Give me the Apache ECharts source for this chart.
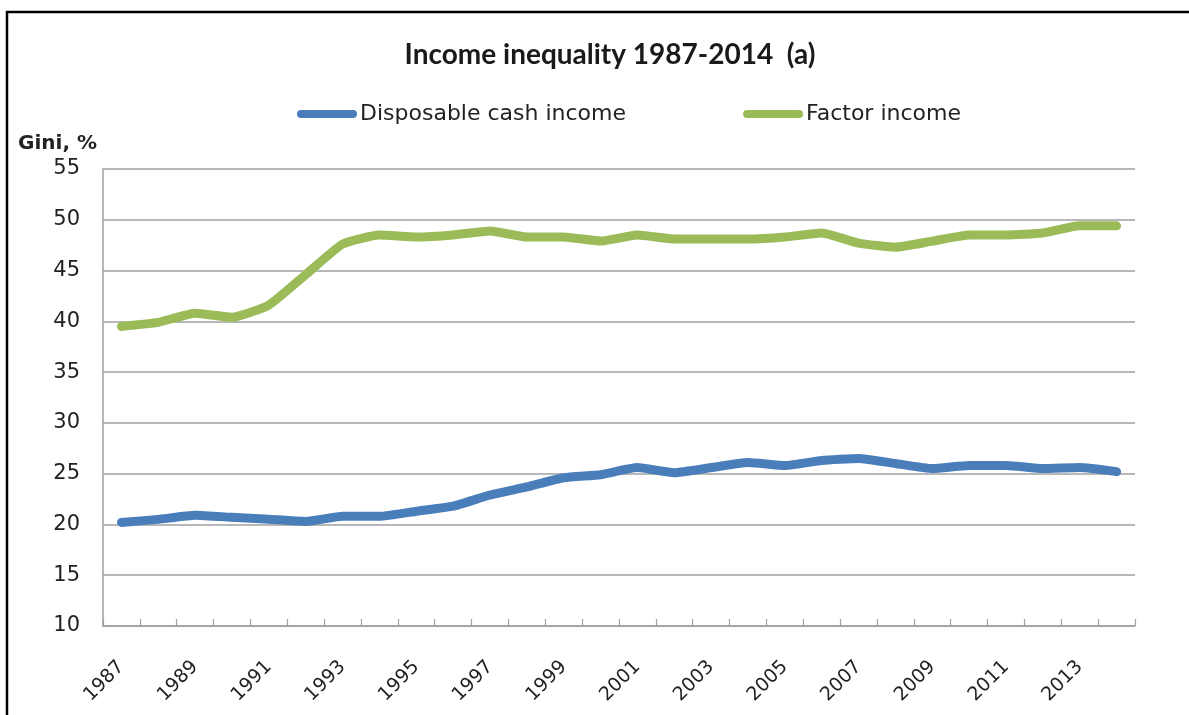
<!DOCTYPE html>
<html>
<head>
<meta charset="utf-8">
<script src="https://cdn.jsdelivr.net/npm/echarts@6/dist/echarts.min.js"></script>
<style>
html,body{margin:0;padding:0;background:#fff;}
#chart{width:1189px;height:715px;}
</style>
</head>
<body>
<div id="chart"></div>
<script>
var years = ['1987','1988','1989','1990','1991','1992','1993','1994','1995','1996','1997','1998','1999','2000',
             '2001','2002','2003','2004','2005','2006','2007','2008','2009','2010','2011','2012','2013','2014'];
var disposableCashIncome = [20.2,20.5,20.9,20.7,20.5,20.3,20.8,20.8,21.3,21.8,22.9,23.7,24.6,24.9,
                            25.6,25.1,25.6,26.1,25.8,26.3,26.5,26.0,25.5,25.8,25.8,25.5,25.6,25.2];
var factorIncome = [39.5,39.9,40.8,40.4,41.6,44.6,47.6,48.5,48.3,48.5,48.9,48.3,48.3,47.9,
                    48.5,48.1,48.1,48.1,48.3,48.7,47.7,47.3,47.9,48.5,48.5,48.7,49.4,49.4];
var yTicks = {min: 10, max: 55, interval: 5};

var chart = echarts.init(document.getElementById('chart'), null, {renderer: 'canvas'});
var icon = 'path://M4,0 L56,0 A4,4 0 0 1 56,8 L4,8 A4,4 0 0 1 4,0 Z';
chart.setOption({
  animation: false,
  backgroundColor: '#ffffff',
  color: ['#4a7ebb', '#9bbb59'],
  title: {
    text: 'Income inequality 1987-2014  (a)',
    left: 610, top: 41, textAlign: 'center', padding: 0,
    textStyle: {fontFamily: 'Lato', fontWeight: 'bold', fontSize: 28, color: '#1a1a1a'}
  },
  legend: {
    left: 297, top: 103, padding: 0,
    itemWidth: 60, itemHeight: 9, itemGap: 117,
    icon: icon,
    textStyle: {fontFamily: 'DejaVu Sans', fontSize: 22, color: '#222', padding: [0,0,0,-2]},
    data: ['Disposable cash income', 'Factor income']
  },
  grid: {left: 103, right: 54, top: 169, bottom: 89, containLabel: false},
  xAxis: {
    type: 'category',
    data: years,
    boundaryGap: true,
    axisLine: {lineStyle: {color: '#a0a0a0', width: 1.5}},
    axisTick: {show: true, inside: true, interval: 0, length: 7, lineStyle: {color: '#a0a0a0', width: 1.2}},
    axisLabel: {interval: 1, rotate: 45, margin: 38, fontFamily: 'DejaVu Sans', fontSize: 19, color: '#222'},
    splitLine: {show: false}
  },
  yAxis: {
    type: 'value',
    min: yTicks.min, max: yTicks.max, interval: yTicks.interval,
    name: 'Gini, %',
    nameLocation: 'end',
    nameGap: 15,
    nameTextStyle: {fontFamily: 'DejaVu Sans', fontWeight: 'bold', fontSize: 20, color: '#222', align: 'right', padding: [0, 6, 0, 0]},
    axisLine: {show: true, lineStyle: {color: '#a0a0a0', width: 1.5}},
    axisTick: {show: false},
    axisLabel: {margin: 23, fontFamily: 'DejaVu Sans', fontSize: 21, color: '#222'},
    splitLine: {show: true, lineStyle: {color: '#a0a0a0', width: 1.5}}
  },
  graphic: [{
    type: 'rect', silent: true, z: 100,
    shape: {x: 7, y: 12, width: 1300, height: 800},
    style: {fill: 'none', stroke: '#000', lineWidth: 2.5}
  }],
  series: [
    {name: 'Disposable cash income', type: 'line', data: disposableCashIncome, symbol: 'none', smooth: 0.15,
     lineStyle: {width: 9, cap: 'round', join: 'round'}},
    {name: 'Factor income', type: 'line', data: factorIncome, symbol: 'none', smooth: 0.15,
     lineStyle: {width: 9, cap: 'round', join: 'round'}}
  ]
});
</script>
</body>
</html>
